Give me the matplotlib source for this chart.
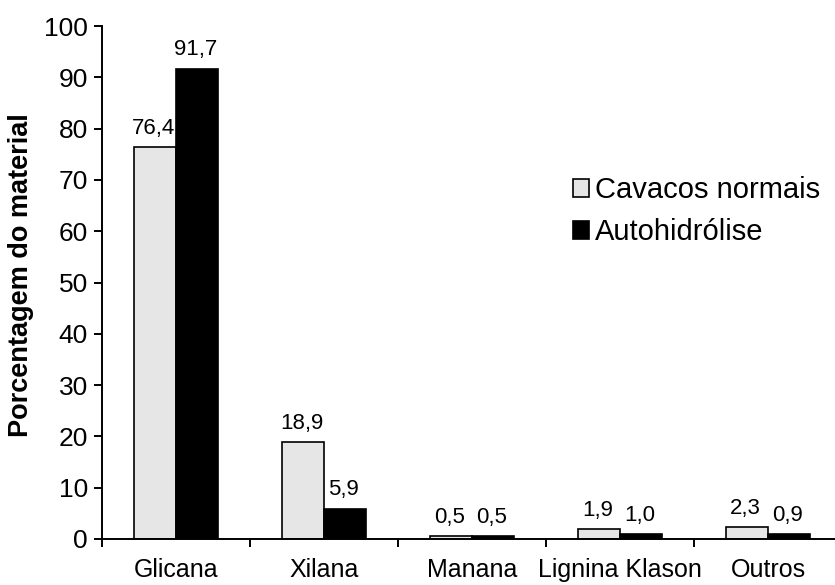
import numpy as np
import matplotlib
matplotlib.use("Agg")
import matplotlib.pyplot as plt
from matplotlib.ticker import FixedLocator

plt.rcParams["font.family"] = ["Liberation Sans", "DejaVu Sans"]

categories = ["Glicana", "Xilana", "Manana", "Lignina Klason", "Outros"]
cavacos = [76.4, 18.9, 0.5, 1.9, 2.3]
autohidrolise = [91.7, 5.9, 0.5, 1.0, 0.9]
series_labels = ["Cavacos normais", "Autohidrólise"]


def fmt(v):
    return f"{v:.1f}".replace(".", ",")


fig = plt.figure(figsize=(8.35, 5.85), dpi=100)
ax = fig.add_axes([102 / 835, 1 - 539 / 585, 1 - 102 / 835, (539 - 26) / 585])

x = np.arange(len(categories))
w = 0.284
b1 = ax.bar(x - w / 2, cavacos, w, color="#e6e6e6", edgecolor="black",
            linewidth=1.2, label=series_labels[0])
b2 = ax.bar(x + w / 2, autohidrolise, w, color="black", edgecolor="black",
            linewidth=1.2, label=series_labels[1])

for bars, vals in ((b1, cavacos), (b2, autohidrolise)):
    for r, v in zip(bars, vals):
        ax.annotate(fmt(v), (r.get_x() + r.get_width() / 2, r.get_height()),
                    xytext=(-1, 6), textcoords="offset points",
                    ha="center", va="bottom", fontsize=16)

ax.set_ylim(0, 100)
ax.set_yticks(np.arange(0, 101, 10))
ax.set_xlim(-0.5, -0.5 + 733 / 148)
ax.set_xticks(x)
ax.set_xticklabels(categories, fontsize=18)
ax.xaxis.set_minor_locator(FixedLocator(np.arange(-0.5, 5.0, 1.0)))
ax.tick_params(axis="x", which="major", length=0, pad=14)
ax.tick_params(axis="x", which="minor", length=6, width=1.4, direction="out")
ax.tick_params(axis="y", labelsize=19, length=6, width=1.4, direction="out", pad=4)

for s in ("top", "right"):
    ax.spines[s].set_visible(False)
for s in ("left", "bottom"):
    ax.spines[s].set_linewidth(1.4)

ax.set_ylabel("Porcentagem do material", fontsize=19.5, fontweight="bold")
ax.yaxis.set_label_coords(-0.093, 0.515)

ax.legend(loc="upper left", bbox_to_anchor=(0.643, 0.707), frameon=False,
          fontsize=21, handlelength=0.55, handleheight=0.55, handletextpad=0.2,
          labelspacing=0.48, borderaxespad=0, borderpad=0)

fig.savefig("out.png", dpi=100)
